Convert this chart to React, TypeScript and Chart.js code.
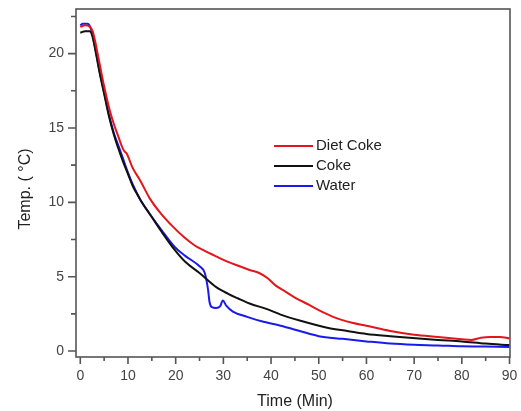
import { useEffect, useRef } from "react";
import { Chart, registerables } from "chart.js";
Chart.register(...registerables);

// ---- Data ----
const dietCokeTime = [0, 1, 2, 2.6, 3, 4, 5, 6, 7, 8, 8.8, 9.2, 9.7, 11, 12.5, 14.6, 17, 19, 21.6, 24, 26, 28.6, 31, 33, 35.5, 37.5, 39.3, 41, 43, 45, 48, 50, 53, 57, 60, 65, 70, 75, 80, 82, 84, 86, 88, 90];
const dietCokeTemp = [21.8, 21.9, 21.8, 21.5, 21.0, 19.4, 17.8, 16.4, 15.3, 14.4, 13.7, 13.45, 13.3, 12.3, 11.5, 10.25, 9.2, 8.5, 7.7, 7.1, 6.75, 6.35, 6.0, 5.75, 5.45, 5.25, 4.9, 4.4, 4.0, 3.6, 3.1, 2.75, 2.3, 1.9, 1.7, 1.35, 1.1, 0.95, 0.8, 0.75, 0.9, 0.95, 0.95, 0.85];

const cokeTime = [0, 1, 2, 2.5, 3, 4, 5, 6, 7, 8, 9, 10, 11, 12, 13, 14.6, 17, 19.8, 22, 25, 28.5, 31, 33, 35.5, 39.3, 42, 46, 52, 56, 60, 65, 71, 75, 80, 85, 90];
const cokeTemp = [21.4, 21.5, 21.5, 21.2, 20.5, 18.8, 17.3, 15.8, 14.6, 13.6, 12.7, 11.9, 11.1, 10.5, 9.95, 9.2, 8.05, 6.8, 6.0, 5.25, 4.3, 3.85, 3.55, 3.2, 2.8, 2.45, 2.05, 1.55, 1.35, 1.15, 1.0, 0.85, 0.75, 0.65, 0.5, 0.4];

const waterTime = [0, 0.5, 1.5, 2.2, 3, 4, 5, 6, 7, 8, 9, 10, 11, 12, 13, 14.6, 17, 19.8, 22, 25, 26.1, 26.8, 27.1, 27.6, 28.5, 29.3, 29.9, 30.6, 32, 35, 38, 42, 46, 50, 55, 60, 65, 70, 75, 80, 85, 90];
const waterTemp = [21.9, 22.0, 22.0, 21.7, 20.6, 18.9, 17.4, 15.9, 14.7, 13.8, 12.9, 12.0, 11.2, 10.55, 9.95, 9.2, 8.15, 7.0, 6.4, 5.7, 5.25, 4.1, 3.3, 2.95, 2.9, 3.0, 3.4, 3.05, 2.65, 2.3, 2.0, 1.7, 1.35, 1.0, 0.82, 0.65, 0.5, 0.42, 0.38, 0.32, 0.3, 0.28];

const seriesNames = ["Diet Coke", "Coke", "Water"];
const xTickValues = [0, 10, 20, 30, 40, 50, 60, 70, 80, 90];
const yTickValues = [0, 5, 10, 15, 20];
const xMinorTicks = [5, 15, 25, 35, 45, 55, 65, 75, 85];
const yMinorTicks = [2.5, 7.5, 12.5, 17.5, 22.5];
const xTitle = "Time (Min)";
const yTitle = "Temp. ( °C)";

const COLORS = ["#e3161b", "#111111", "#1a1aee"];
const AXIS_COLOR = "#555555";
const FONT = "'Liberation Sans', Arial, sans-serif";

function pts(t: number[], v: number[]) {
  return t.map((x, i) => ({ x, y: v[i] }));
}

const decorPlugin = {
  id: "decor",
  afterDraw(chart: any) {
    const { ctx, chartArea: a, scales } = chart;
    const x = scales.x;
    const y = scales.y;
    ctx.save();
    ctx.strokeStyle = AXIS_COLOR;
    ctx.lineWidth = 1.6;
    ctx.strokeRect(a.left, a.top, a.right - a.left, a.bottom - a.top);
    ctx.beginPath();
    xTickValues.forEach((v) => {
      const p = x.getPixelForValue(v);
      ctx.moveTo(p, a.bottom);
      ctx.lineTo(p, a.bottom + 7);
    });
    xMinorTicks.forEach((v) => {
      const p = x.getPixelForValue(v);
      ctx.moveTo(p, a.bottom);
      ctx.lineTo(p, a.bottom + 4);
    });
    yTickValues.forEach((v) => {
      const p = y.getPixelForValue(v);
      ctx.moveTo(a.left, p);
      ctx.lineTo(a.left - 8, p);
    });
    yMinorTicks.forEach((v) => {
      const p = y.getPixelForValue(v);
      ctx.moveTo(a.left, p);
      ctx.lineTo(a.left - 5, p);
    });
    ctx.stroke();

    // Legend
    ctx.font = `15px ${FONT}`;
    ctx.textBaseline = "middle";
    ctx.textAlign = "left";
    seriesNames.forEach((name, i) => {
      const ly = a.top + 137 + i * 20;
      const lx = a.left + 198;
      ctx.strokeStyle = COLORS[i];
      ctx.lineWidth = 2;
      ctx.beginPath();
      ctx.moveTo(lx, ly);
      ctx.lineTo(lx + 39, ly);
      ctx.stroke();
      ctx.fillStyle = "#222";
      ctx.fillText(name, lx + 42, ly);
    });

    // Axis titles
    ctx.fillStyle = "#222";
    ctx.font = `16px ${FONT}`;
    ctx.textAlign = "center";
    ctx.textBaseline = "middle";
    ctx.fillText(xTitle, (a.left + a.right) / 2 + 2, 402);
    ctx.save();
    ctx.translate(26, (a.top + a.bottom) / 2 + 6);
    ctx.rotate(-Math.PI / 2);
    ctx.fillText(yTitle, 0, 0);
    ctx.restore();
    ctx.restore();
  },
};

export default function App() {
  const ref = useRef<HTMLCanvasElement>(null);
  useEffect(() => {
    document.body.style.margin = "0";
    const chart = new Chart(ref.current!, {
      type: "line",
      data: {
        datasets: [
          { label: seriesNames[0], data: pts(dietCokeTime, dietCokeTemp), borderColor: COLORS[0] },
          { label: seriesNames[1], data: pts(cokeTime, cokeTemp), borderColor: COLORS[1] },
          { label: seriesNames[2], data: pts(waterTime, waterTemp), borderColor: COLORS[2] },
        ].map((d) => ({
          ...d,
          borderWidth: 2,
          pointRadius: 0,
          fill: false,
          cubicInterpolationMode: "monotone" as const,
        })),
      },
      options: {
        animation: false,
        responsive: false,
        layout: { padding: { top: 9, right: 11, left: 0, bottom: 0 } },
        plugins: { legend: { display: false }, tooltip: { enabled: false } },
        scales: {
          x: {
            type: "linear",
            min: -0.9,
            max: 90.1,
            grid: { display: false, drawTicks: false },
            border: { display: false },
            afterBuildTicks: (s: any) => {
              s.ticks = xTickValues.map((value) => ({ value }));
            },
            afterFit: (s: any) => {
              s.height = 54;
              s.paddingLeft = 0;
              s.paddingRight = 0;
            },
            ticks: {
              padding: 11,
              color: "#444",
              font: { family: FONT, size: 14 },
              maxRotation: 0,
              autoSkip: false,
            },
          },
          y: {
            type: "linear",
            min: -0.4,
            max: 23,
            grid: { display: false, drawTicks: false },
            border: { display: false },
            afterBuildTicks: (s: any) => {
              s.ticks = yTickValues.map((value) => ({ value }));
            },
            afterFit: (s: any) => {
              s.width = 76;
              s.paddingTop = 0;
              s.paddingBottom = 0;
            },
            ticks: {
              padding: 12,
              color: "#444",
              font: { family: FONT, size: 14 },
              autoSkip: false,
            },
          },
        },
      },
      plugins: [decorPlugin],
    });
    return () => chart.destroy();
  }, []);
  return <canvas ref={ref} width={521} height={411} style={{ display: "block" }} />;
}
